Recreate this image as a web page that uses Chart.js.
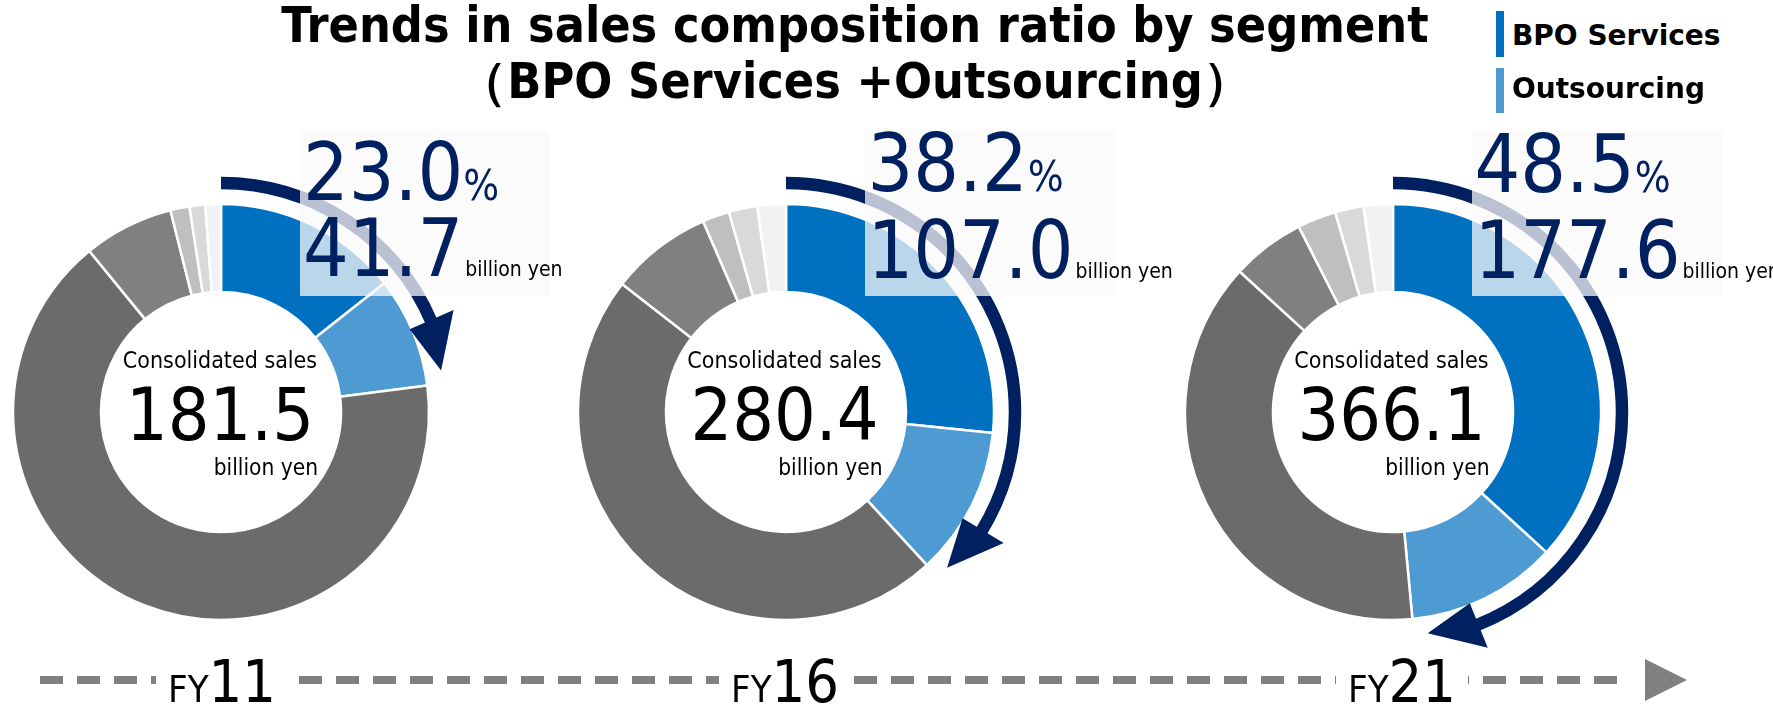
<!DOCTYPE html>
<html>
<head>
<meta charset="utf-8">
<title>Trends in sales composition ratio by segment</title>
<script src="https://cdn.jsdelivr.net/npm/chart.js@4.4.1/dist/chart.umd.min.js"></script>
<style>
  html, body { margin: 0; padding: 0; background: #ffffff; overflow: hidden; }
  #page { position: relative; width: 1773px; height: 706px; overflow: hidden; }
  #page canvas { position: absolute; }
  .t { position: absolute; line-height: 1; white-space: nowrap;
       font-family: 'DejaVu Sans Condensed', 'DejaVu Sans', sans-serif; }
</style>
</head>
<body>
<div id="page"></div>
<script>
// Fiscal years shown along the timeline
const fiscalYears = ['FY11', 'FY16', 'FY21'];

// Segment order, clockwise from 12 o'clock
const segmentNames = ['BPO Services', 'Outsourcing', 'Other 1', 'Other 2', 'Other 3', 'Other 4', 'Other 5'];
const segmentColors = ['#0070c0', '#4e9bd4', '#6b6b6b', '#808080', '#bfbfbf', '#d9d9d9', '#f2f2f2'];

// Consolidated sales (billion yen)
const consolidatedSales = [181.5, 280.4, 366.1];
// BPO Services + Outsourcing: share of sales (%) and amount (billion yen)
const focusShare = [23.0, 38.2, 48.5];
const focusSales = [41.7, 107.0, 177.6];

// Segment sales (billion yen)
const bpoSales         = [26.1, 74.6, 134.7];
const outsourcingSales = [15.6, 32.4, 42.9];
const other1Sales      = [120.0, 132.9, 140.2];
const other2Sales      = [12.7, 22.2, 20.9];
const other3Sales      = [2.7, 5.9, 11.0];
const other4Sales      = [2.2, 6.2, 8.1];
const other5Sales      = [2.2, 6.2, 8.3];

// ---- layout ----
const NAVY = '#002060';
const centersX = [221, 785.5, 1392.5];
const centerY = 412;
const OUTER_R = 208;
const shareLineY = [[201, 277], [192, 279], [193, 279]];
const page = document.getElementById('page');

// Place a text block so that its alphabetic baseline sits at `baseline`
function placeText(html, x, baseline, size, align, style) {
  const d = document.createElement('div');
  d.className = 't';
  d.innerHTML = html;
  d.style.fontSize = size + 'px';
  d.style.top = (baseline - 0.846 * size) + 'px';
  d.style.left = x + 'px';
  if (align === 'center') d.style.transform = 'translateX(-50%)';
  if (align === 'right') d.style.transform = 'translateX(-100%)';
  if (style) d.style.cssText += style;
  page.appendChild(d);
  return d;
}

// Curved arrow drawn just outside the ring, from 12 o'clock to the end of the focus share
const shareArrow = {
  id: 'shareArrow',
  afterDatasetsDraw(chart, args, opts) {
    const el = chart.getDatasetMeta(0).data[0];
    const cx = el.x, cy = el.y, ctx = chart.ctx;
    const rad = d => (d - 90) * Math.PI / 180;
    const pt = (deg, rr) => [cx + rr * Math.cos(rad(deg)), cy + rr * Math.sin(rad(deg))];
    const r = opts.radius;
    const tip = opts.share * 3.6 - opts.tipInset;
    const base = tip - opts.headDeg;
    ctx.save();
    ctx.strokeStyle = opts.color;
    ctx.lineWidth = opts.width;
    ctx.lineCap = 'butt';
    ctx.beginPath();
    ctx.arc(cx, cy, r, rad(0), rad(base + 0.5));
    ctx.stroke();
    ctx.fillStyle = opts.color;
    ctx.beginPath();
    ctx.moveTo(...pt(base, r - opts.headHalf));
    ctx.lineTo(...pt(base, r + opts.headHalf + 2));
    ctx.lineTo(...pt(tip, r - 5));
    ctx.closePath();
    ctx.fill();
    ctx.restore();
  }
};

fiscalYears.forEach((fy, i) => {
  const cx = centersX[i];
  const canvas = document.createElement('canvas');
  canvas.width = 520; canvas.height = 520;
  canvas.style.left = (cx - 260) + 'px';
  canvas.style.top = (centerY - 260) + 'px';
  page.appendChild(canvas);

  new Chart(canvas, {
    type: 'doughnut',
    data: {
      labels: segmentNames,
      datasets: [{
        data: [bpoSales[i], outsourcingSales[i], other1Sales[i], other2Sales[i],
               other3Sales[i], other4Sales[i], other5Sales[i]],
        backgroundColor: segmentColors,
        borderColor: '#ffffff',
        borderWidth: 2.5,
        hoverOffset: 0
      }]
    },
    options: {
      responsive: false,
      animation: false,
      events: [],
      radius: OUTER_R,
      cutout: '57.7%',
      layout: { padding: 0 },
      plugins: {
        legend: { display: false },
        tooltip: { enabled: false },
        shareArrow: { share: focusShare[i], radius: 229, width: 12.5, color: NAVY,
                      tipInset: 3.5, headDeg: 13, headHalf: 23 }
      }
    },
    plugins: [shareArrow]
  });

  // translucent panel behind the share figures
  const panel = document.createElement('div');
  panel.style.cssText = 'position:absolute;background:rgba(250,250,250,0.74);';
  panel.style.left = (cx + 79) + 'px';
  panel.style.top = (centerY - 282) + 'px';
  panel.style.width = '250px';
  panel.style.height = '166px';
  page.appendChild(panel);

  placeText(focusShare[i].toFixed(1) + '<span style="font-size:42px">%</span>',
            cx + 82, shareLineY[i][0], 80, 'left', 'color:' + NAVY + ';');
  placeText(focusSales[i].toFixed(1) + '<span style="font-size:21px;color:#000;margin-left:2px">billion yen</span>',
            cx + 82, shareLineY[i][1], 80, 'left', 'color:' + NAVY + ';');

  // centre caption
  placeText('Consolidated sales', cx - 1, 368, 23, 'center', 'color:#000;');
  placeText(consolidatedSales[i].toFixed(1), cx - 1, 440, 73, 'center', 'color:#000;');
  placeText('billion yen', cx + 97, 475, 22.5, 'right', 'color:#000;');
});

// Title
placeText('Trends in sales composition ratio by segment', 855, 43, 49.8, 'center', 'font-weight:bold;color:#000;');
placeText('（BPO Services +Outsourcing）', 855, 99.5, 49.8, 'center', 'font-weight:bold;color:#000;');

// Legend
[['BPO Services', 0, 11, 46, 46], ['Outsourcing', 1, 68, 45, 99]].forEach(([name, k, top, h, base]) => {
  const sw = document.createElement('div');
  sw.style.cssText = 'position:absolute;left:1496px;width:8px;';
  sw.style.top = top + 'px';
  sw.style.height = h + 'px';
  sw.style.background = segmentColors[k];
  page.appendChild(sw);
  placeText(name, 1512, base, 28, 'left',
            "font-family:'DejaVu Sans',sans-serif;font-weight:bold;color:#000;");
});

// Timeline along the bottom
const axis = document.createElement('canvas');
axis.width = 1773; axis.height = 60;
axis.style.left = '0px'; axis.style.top = '646px';
page.appendChild(axis);
(function drawTimeline() {
  const ctx = axis.getContext('2d');
  const y = 34;
  ctx.fillStyle = '#808080';
  for (let x = 40; x + 23 <= 1645; x += 37) ctx.fillRect(x, y - 4, 23, 8);
  ctx.beginPath();
  ctx.moveTo(1645, y - 21);
  ctx.lineTo(1687, y);
  ctx.lineTo(1645, y + 21);
  ctx.closePath();
  ctx.fill();
})();

const axisLabelX = [222, 785, 1402];
fiscalYears.forEach((fy, i) => {
  placeText('<span style="font-size:38px">' + fy.slice(0, 2) + '</span>' + fy.slice(2),
            axisLabelX[i], 702, 59, 'center', 'color:#000;background:#fff;padding:0 12px;');
});
</script>
</body>
</html>
